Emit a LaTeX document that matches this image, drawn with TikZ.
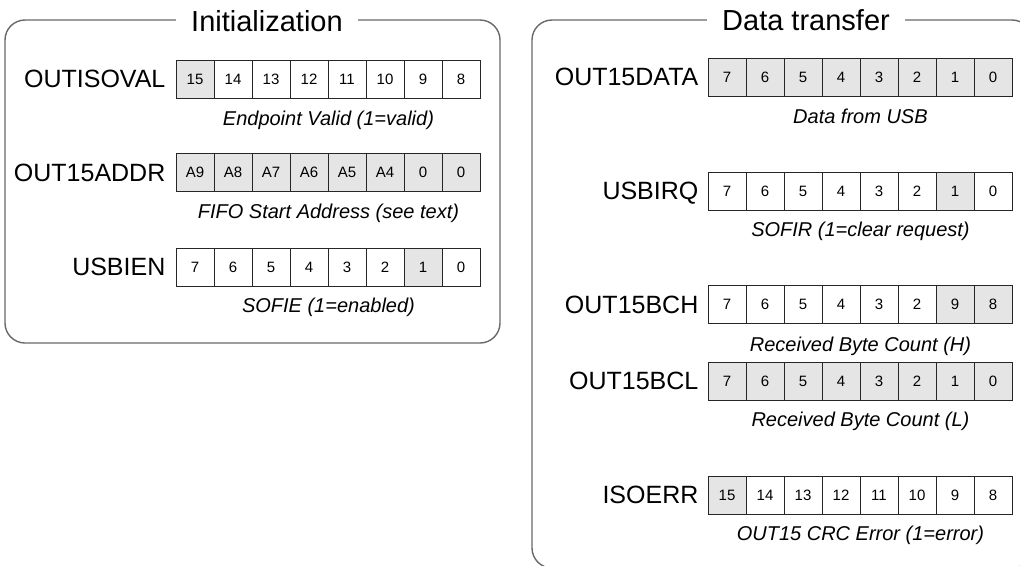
\documentclass[tikz,border=0pt]{standalone}
\usepackage{fontspec}
\setmainfont{Liberation Sans}
\usetikzlibrary{positioning,calc}
\definecolor{cellGray}{RGB}{229,229,229}
\definecolor{frameGray}{RGB}{105,105,105}
\colorlet{InkDark}{black!85}

\begin{document}
\begin{tikzpicture}[
    x=1pt,y=-1pt,
    bitcell/.style={draw=InkDark,line width=0.9pt,minimum width=38pt,
      minimum height=38pt,inner sep=0pt,font=\fontsize{15}{18}\selectfont,
      text height=10.7pt,text depth=0pt},
    regname/.style={font=\fontsize{25}{30}\selectfont,text height=17.9pt,
      text depth=0pt,inner sep=0pt},
    regnote/.style={font=\fontsize{20}{24}\selectfont\itshape,
      text height=14.3pt,text depth=0pt,inner sep=0pt},
    boxtitle/.style={font=\fontsize{29}{34}\selectfont,fill=white,
      inner xsep=15pt,inner ysep=2pt},
    groupbox/.style={draw=frameGray,line width=1.4pt,rounded corners=20pt}
  ]
  \useasboundingbox (0,0) rectangle (1020,565);

  % frames
  \draw[groupbox] (5,20) rectangle (500,343);
  \node[boxtitle] (init-title) at (267,21) {Initialization};
  \draw[groupbox] (532,20) rectangle (1032,568);
  \node[boxtitle] (xfer-title) at (806,20) {Data transfer};

  % OUTISOVAL
  \foreach \b/\f [count=\i from 0] in {15/cellGray,14/white,13/white,
      12/white,11/white,10/white,9/white,8/white}{
    \node[bitcell,fill=\f] (oval-\i) at ({195+38*\i},79) {\b};
  }
  \node[regname,left=10pt of oval-0] (oval-name) {OUTISOVAL};
  \node[regnote] (oval-note) at ([yshift=-20pt]oval-3.south east)
    {Endpoint Valid (1=valid)};

  % OUT15ADDR
  \foreach \b [count=\i from 0] in {A9,A8,A7,A6,A5,A4,0,0}{
    \node[bitcell,fill=cellGray] (addr-\i) at ({195+38*\i},172.5) {\b};
  }
  \node[regname,left=10pt of addr-0] (addr-name) {OUT15ADDR};
  \node[regnote] (addr-note) at ([yshift=-19pt]addr-3.south east)
    {FIFO Start Address (see text)};

  % USBIEN
  \foreach \b/\f [count=\i from 0] in {7/white,6/white,5/white,4/white,
      3/white,2/white,1/cellGray,0/white}{
    \node[bitcell,fill=\f] (ien-\i) at ({195+38*\i},267) {\b};
  }
  \node[regname,left=10pt of ien-0] (ien-name) {USBIEN};
  \node[regnote] (ien-note) at ([yshift=-19pt]ien-3.south east)
    {SOFIE (1=enabled)};

  % OUT15DATA
  \foreach \b [count=\i from 0] in {7,6,5,4,3,2,1,0}{
    \node[bitcell,fill=cellGray] (data-\i) at ({727+38*\i},77) {\b};
  }
  \node[regname,left=9pt of data-0] (data-name) {OUT15DATA};
  \node[regnote] (data-note) at ([yshift=-20pt]data-3.south east)
    {Data from USB};

  % USBIRQ
  \foreach \b/\f [count=\i from 0] in {7/white,6/white,5/white,4/white,
      3/white,2/white,1/cellGray,0/white}{
    \node[bitcell,fill=\f] (irq-\i) at ({727+38*\i},191) {\b};
  }
  \node[regname,left=9pt of irq-0] (irq-name) {USBIRQ};
  \node[regnote] (irq-note) at ([yshift=-19pt]irq-3.south east)
    {SOFIR (1=clear request)};

  % OUT15BCH
  \foreach \b/\f [count=\i from 0] in {7/white,6/white,5/white,4/white,
      3/white,2/white,9/cellGray,8/cellGray}{
    \node[bitcell,fill=\f] (bch-\i) at ({727+38*\i},304.5) {\b};
  }
  \node[regname,left=9pt of bch-0] (bch-name) {OUT15BCH};
  \node[regnote] (bch-note) at ([yshift=-20pt]bch-3.south east)
    {Received Byte Count (H)};

  % OUT15BCL
  \foreach \b [count=\i from 0] in {7,6,5,4,3,2,1,0}{
    \node[bitcell,fill=cellGray] (bcl-\i) at ({727+38*\i},381) {\b};
  }
  \node[regname,left=9pt of bcl-0] (bcl-name) {OUT15BCL};
  \node[regnote] (bcl-note) at ([yshift=-19pt]bcl-3.south east)
    {Received Byte Count (L)};

  % ISOERR
  \foreach \b/\f [count=\i from 0] in {15/cellGray,14/white,13/white,
      12/white,11/white,10/white,9/white,8/white}{
    \node[bitcell,fill=\f] (err-\i) at ({727+38*\i},495) {\b};
  }
  \node[regname,left=9pt of err-0] (err-name) {ISOERR};
  \node[regnote] (err-note) at ([yshift=-19pt]err-3.south east)
    {OUT15 CRC Error (1=error)};
\end{tikzpicture}
\end{document}
